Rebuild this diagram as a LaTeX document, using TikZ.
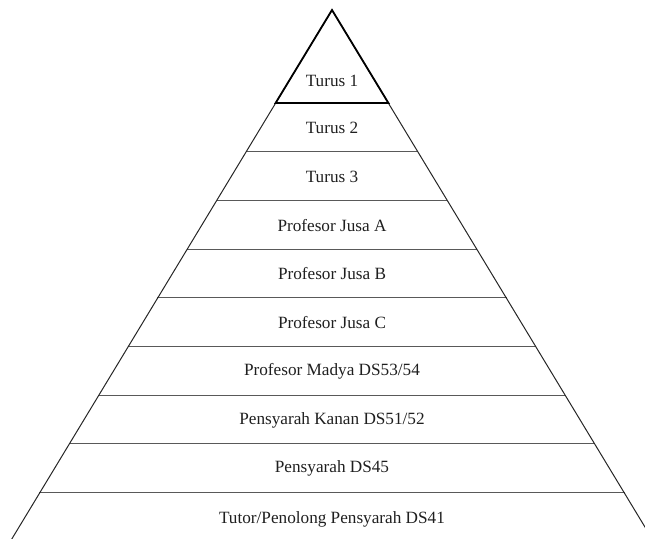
\documentclass[tikz,border=0pt]{standalone}
\usepackage{fontspec}
\setmainfont{Liberation Serif}
\begin{document}
\begin{tikzpicture}[x=1pt,y=-1pt,
  lbl/.style={font=\fontsize{17.2}{20}\selectfont, inner sep=0pt, text=black!88},
  hline/.style={draw=black!65, line width=1.1pt},
  edge/.style={draw=black!85, line width=1pt}]
\useasboundingbox (0,0) rectangle (645,538);
\clip (0,0) rectangle (645,538);
\coordinate (apex) at (332,10);
\coordinate (bl) at (-10,575);
\coordinate (br) at (674,575);
% horizontal separators
\foreach \y in {151.7,200.4,249.1,297.8,346.5,395.2,443.9,492.6}{
  \pgfmathsetmacro{\dx}{0.6065*(\y-10)}
  \draw[hline] (332-\dx,\y) -- (332+\dx,\y);
}
% outer edges
\draw[edge] (apex) -- (bl);
\draw[edge] (apex) -- (br);
% top triangle
\coordinate (t1l) at (275.6,103);
\coordinate (t1r) at (388.4,103);
\draw[line width=1.8pt, line join=miter] (apex) -- (t1l) -- (t1r) -- cycle;
% labels
\node[lbl] (n1) at (332,81) {Turus 1};
\node[lbl] (n2) at (332,128) {Turus 2};
\node[lbl] (n3) at (332,177) {Turus 3};
\node[lbl] (n4) at (332,225.5) {Profesor Jusa A};
\node[lbl] (n5) at (332,274) {Profesor Jusa B};
\node[lbl] (n6) at (332,322.5) {Profesor Jusa C};
\node[lbl] (n7) at (332,371.5) {Profesor Madya DS53/54};
\node[lbl] (n8) at (332,420) {Pensyarah Kanan DS51/52};
\node[lbl] (n9) at (332,468.5) {Pensyarah DS45};
\node[lbl] (n10) at (332,519) {Tutor/Penolong Pensyarah DS41};
\end{tikzpicture}
\end{document}
